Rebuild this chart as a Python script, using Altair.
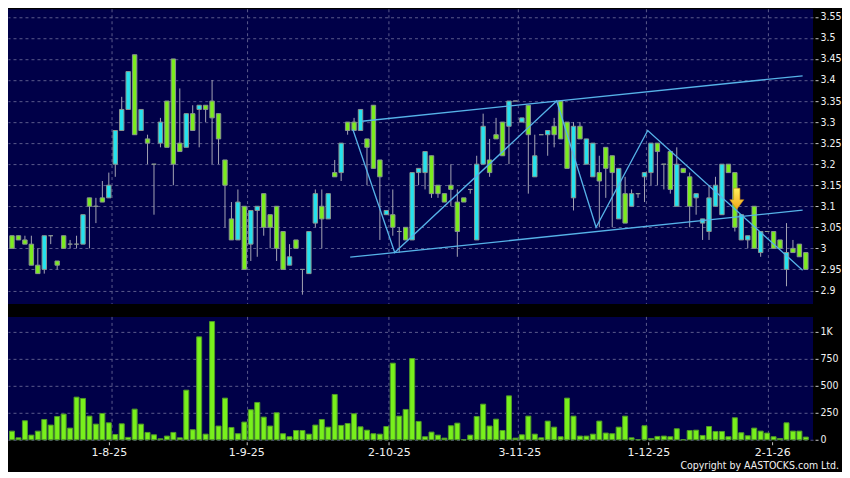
import altair as alt
import pandas as pd

# ---- daily candles (index 0..123) ----
opens = [3.03, 3.03, 3.02, 3.01, 2.96, 2.95, 3.03, 2.97, 3.03, 3.01,
         3.01, 3.01, 3.12, 3.10, 3.12, 3.12, 3.20, 3.28, 3.33, 3.46,
         3.28, 3.26, 3.20, 3.25, 3.35, 3.45, 3.25, 3.24, 3.32, 3.33,
         3.34, 3.35, 3.32, 3.21, 3.07, 3.02, 3.10, 3.01, 3.09, 3.13,
         3.08, 3.10, 3.04, 2.96, 3.02, 2.95, 2.94, 3.06, 3.10, 3.07,
         3.18, 3.18, 3.30, 3.30, 3.28, 3.26, 3.34, 3.21, 3.08, 3.08,
         3.04, 3.05, 3.02, 3.18, 3.18, 3.22, 3.15, 3.13, 3.15, 3.11,
         3.12, 3.14, 3.02, 3.20, 3.21, 3.27, 3.30, 3.29, 3.35, 3.30,
         3.34, 3.17, 3.27, 3.27, 3.29, 3.35, 3.30, 3.12, 3.29, 3.20,
         3.17, 3.18, 3.24, 3.22, 3.07, 3.13, 3.10, 3.13, 3.17, 3.18,
         3.25, 3.20, 3.23, 3.10, 3.19, 3.17, 3.12, 3.06, 3.04, 3.10,
         3.08, 3.20, 3.18, 3.02, 3.02, 3.10, 2.99, 3.04, 3.04, 3.02,
         2.95, 3.00, 3.01, 2.99]
closes = [3.00, 3.02, 3.01, 2.96, 2.94, 3.03, 3.03, 2.96, 3.00, 3.01,
          3.01, 3.08, 3.10, 3.10, 3.11, 3.15, 3.28, 3.33, 3.42, 3.27,
          3.33, 3.25, 3.20, 3.30, 3.24, 3.20, 3.23, 3.32, 3.28, 3.34,
          3.33, 3.31, 3.26, 3.15, 3.02, 3.11, 2.95, 3.09, 3.10, 3.05,
          3.05, 3.00, 2.95, 2.98, 3.00, 2.95, 3.04, 3.13, 3.07, 3.13,
          3.17, 3.25, 3.28, 3.28, 3.33, 3.24, 3.19, 3.17, 3.09, 3.05,
          3.04, 3.02, 3.18, 3.19, 3.23, 3.13, 3.13, 3.11, 3.14, 3.04,
          3.11, 3.14, 3.20, 3.29, 3.18, 3.26, 3.22, 3.35, 3.35, 3.31,
          3.27, 3.22, 3.27, 3.28, 3.27, 3.26, 3.19, 3.29, 3.26, 3.26,
          3.25, 3.16, 3.19, 3.18, 3.19, 3.06, 3.13, 3.13, 3.18, 3.25,
          3.23, 3.20, 3.14, 3.20, 3.18, 3.10, 3.13, 3.07, 3.12, 3.15,
          3.20, 3.18, 3.05, 3.08, 3.03, 3.00, 3.04, 3.04, 3.00, 3.00,
          2.99, 2.99, 2.98, 2.95]
highs = [3.03, 3.03, 3.03, 3.03, 3.00, 3.03, 3.03, 2.97, 3.03, 3.02,
         3.03, 3.08, 3.12, 3.12, 3.16, 3.18, 3.28, 3.36, 3.42, 3.46,
         3.33, 3.27, 3.20, 3.31, 3.35, 3.45, 3.38, 3.32, 3.34, 3.34,
         3.34, 3.40, 3.32, 3.21, 3.11, 3.14, 3.10, 3.09, 3.10, 3.13,
         3.08, 3.10, 3.04, 3.01, 3.02, 2.95, 3.04, 3.14, 3.14, 3.13,
         3.21, 3.25, 3.30, 3.31, 3.33, 3.26, 3.34, 3.21, 3.09, 3.14,
         3.05, 3.05, 3.18, 3.19, 3.23, 3.22, 3.15, 3.13, 3.20, 3.14,
         3.12, 3.14, 3.22, 3.32, 3.26, 3.31, 3.30, 3.35, 3.35, 3.31,
         3.34, 3.27, 3.27, 3.28, 3.31, 3.35, 3.30, 3.30, 3.30, 3.26,
         3.25, 3.22, 3.24, 3.22, 3.19, 3.17, 3.14, 3.13, 3.18, 3.25,
         3.25, 3.20, 3.23, 3.24, 3.19, 3.18, 3.13, 3.07, 3.15, 3.17,
         3.20, 3.20, 3.18, 3.08, 3.03, 3.10, 3.04, 3.04, 3.04, 3.02,
         3.06, 3.02, 3.01, 2.99]
lows = [3.00, 3.02, 3.01, 2.96, 2.94, 2.94, 3.01, 2.95, 3.00, 3.00,
        3.00, 3.01, 3.00, 3.06, 3.11, 3.12, 3.17, 3.28, 3.33, 3.27,
        3.28, 3.20, 3.08, 3.24, 3.24, 3.15, 3.23, 3.24, 3.28, 3.24,
        3.30, 3.20, 3.20, 3.05, 3.02, 3.02, 2.95, 2.97, 2.98, 3.03,
        3.00, 2.97, 2.95, 2.96, 3.00, 2.89, 2.94, 3.05, 3.00, 3.07,
        3.17, 3.16, 3.27, 3.28, 3.28, 3.15, 3.19, 3.02, 3.08, 3.03,
        2.99, 3.02, 3.02, 3.15, 3.14, 3.12, 3.12, 3.11, 3.10, 2.98,
        3.11, 3.13, 3.02, 3.20, 3.17, 3.26, 3.22, 3.20, 3.35, 3.30,
        3.13, 3.17, 3.27, 3.22, 3.24, 3.26, 3.19, 3.09, 3.26, 3.20,
        3.17, 3.05, 3.12, 3.05, 3.07, 3.06, 3.10, 3.12, 3.11, 3.15,
        3.15, 3.14, 3.13, 3.10, 3.18, 3.05, 3.08, 3.02, 3.02, 3.10,
        3.08, 3.18, 3.04, 3.02, 3.00, 3.00, 2.98, 3.04, 3.00, 3.00,
        2.91, 2.99, 2.98, 2.95]
volumes = [80, 18, 176, 43, 80, 188, 136, 216, 238, 108,
           395, 383, 219, 145, 244, 157, 49, 148, 22, 284,
           145, 68, 46, 9, 34, 68, 18, 460, 93, 954,
           52, 1096, 127, 386, 114, 56, 164, 278, 346, 210,
           127, 250, 56, 28, 86, 86, 52, 136, 188, 117,
           420, 133, 151, 241, 120, 89, 56, 52, 123, 710,
           219, 281, 753, 170, 28, 71, 43, 15, 130, 154,
           0, 43, 216, 330, 127, 191, 86, 407, 15, 46,
           219, 52, 18, 173, 117, 28, 386, 219, 34, 34,
           52, 173, 62, 56, 117, 219, 18, 0, 130, 12,
           31, 34, 28, 102, 0, 86, 89, 40, 123, 77,
           77, 28, 204, 65, 37, 108, 80, 62, 28, 12,
           157, 80, 80, 25]

# ---- date axis ----
tick_pos = [15.0, 36.3, 58.4, 78.6, 98.6, 117.8]
tick_labels = ["1-8-25", "1-9-25", "2-10-25", "3-11-25", "1-12-25", "2-1-26"]
grid_pos = [15.5, 36.5, 58.4, 78.45, 98.3, 117.2]

price_ticks = [2.9, 2.95, 3.0, 3.05, 3.1, 3.15, 3.2, 3.25, 3.3, 3.35, 3.4, 3.45, 3.5, 3.55]
volume_ticks = [0, 250, 500, 750, 1000]

# ---- drawn trend lines ----
upper_x = [54.2, 122.5]
upper_y = [3.302, 3.41]
lower_x = [52.4, 122.5]
lower_y = [2.979, 3.091]
zig_x = [52.8, 59.3, 84.4, 90.5, 98.5, 122.5]
zig_y = [3.283, 2.99, 3.35, 3.05, 3.28, 2.948]

arrow_x = [112.3]
arrow_y = [3.118]

# ---- tables ----
n = len(opens)
df = pd.DataFrame({
    "i": list(range(n)), "open": opens, "high": highs, "low": lows,
    "close": closes, "volume": volumes,
})
df["dir"] = ["up" if c > o else "down" for o, c in zip(opens, closes)]

grid_df = pd.DataFrame({"g": grid_pos})
lines_df = pd.DataFrame({
    "x": upper_x + lower_x + zig_x,
    "y": upper_y + lower_y + zig_y,
    "line": ["upper"] * len(upper_x) + ["lower"] * len(lower_x) + ["zig"] * len(zig_x),
    "order": list(range(len(upper_x))) + list(range(len(lower_x))) + list(range(len(zig_x))),
})
arrow_df = pd.DataFrame({"x": arrow_x, "y": arrow_y})

# ---- styling ----
GRID = "#5a5a8c"
LABEL = "#f2f2f2"
W = 806
x_scale = alt.Scale(domain=[0.153, 123.34], nice=False, zero=False)
p_scale = alt.Scale(domain=[2.868, 3.568], nice=False, zero=False)
v_scale = alt.Scale(domain=[0, 1139], nice=False, zero=False)

price_axis = alt.Axis(orient="right", values=price_ticks, format=".2~f", title=None,
                      grid=True, gridColor=GRID, gridDash=[3, 3], gridWidth=1,
                      domain=False, ticks=True, tickSize=3, tickColor="#c8c8c8",
                      offset=2, labelPadding=2, labelColor=LABEL,
                      labelFont="DejaVu Sans Condensed", labelFontSize=10.5)

base_p = alt.Chart(df)

vgrid_p = alt.Chart(grid_df).mark_rule(color=GRID, strokeDash=[3, 3], strokeWidth=1).encode(
    x=alt.X("g:Q", scale=x_scale, axis=None))

wicks = base_p.mark_rule(color="#a4a4b4", strokeWidth=1).encode(
    x=alt.X("i:Q", scale=x_scale, axis=None),
    y=alt.Y("low:Q", scale=p_scale, axis=price_axis),
    y2="high:Q",
)

bodies = base_p.mark_bar(size=4.4, stroke="#8a9690", strokeWidth=1).encode(
    x=alt.X("i:Q", scale=x_scale, axis=None),
    y=alt.Y("open:Q", scale=p_scale, axis=price_axis),
    y2="close:Q",
    color=alt.Color("dir:N", scale=alt.Scale(domain=["up", "down"], range=["#24e2ee", "#7bec1e"]),
                    legend=None),
)

trend = alt.Chart(lines_df).mark_line(color="#56b2e8", strokeWidth=1.3).encode(
    x=alt.X("x:Q", scale=x_scale, axis=None),
    y=alt.Y("y:Q", scale=p_scale, axis=price_axis),
    detail="line:N",
    order="order:Q",
)

arrow_shape = "M-0.3,-1 L0.3,-1 L0.3,0.1 L0.67,0.1 L0,1 L-0.67,0.1 L-0.3,0.1 Z"
arrow = alt.Chart(arrow_df).mark_point(
    shape=arrow_shape, size=441, filled=True, opacity=1,
    fill=alt.LinearGradient(gradient="linear",
                            stops=[alt.GradientStop(color="#fff15a", offset=0),
                                   alt.GradientStop(color="#f3a51c", offset=1)],
                            x1=0, x2=0, y1=0, y2=1),
    stroke="#c98a12", strokeWidth=0.6,
).encode(
    x=alt.X("x:Q", scale=x_scale, axis=None),
    y=alt.Y("y:Q", scale=p_scale, axis=price_axis),
)

price = alt.layer(vgrid_p, wicks, bodies, trend, arrow).properties(width=W, height=295)

# ---- volume panel ----
label_expr = " : ".join(
    f"datum.value == {p} ? '{t}'" for p, t in zip(tick_pos, tick_labels)) + " : ''"

x_axis = alt.Axis(values=tick_pos, labelExpr=label_expr, title=None, grid=False,
                  domain=False, ticks=True, tickSize=3, tickColor="#c8c8c8", offset=2,
                  labelPadding=2, labelColor=LABEL, labelFont="DejaVu Sans",
                  labelFontSize=11, labelFlush=False, labelOverlap=False)

vol_axis = alt.Axis(orient="right", values=volume_ticks, title=None,
                    labelExpr="datum.value >= 1000 ? '1K' : datum.label",
                    grid=True, gridColor=GRID, gridDash=[3, 3], gridWidth=1,
                    domain=False, ticks=True, tickSize=3, tickColor="#c8c8c8",
                    offset=2, labelPadding=2, labelColor=LABEL,
                    labelFont="DejaVu Sans Condensed", labelFontSize=10.5)

vgrid_v = alt.Chart(grid_df).mark_rule(color=GRID, strokeDash=[3, 3], strokeWidth=1).encode(
    x=alt.X("g:Q", scale=x_scale, axis=x_axis))

vol_bars = alt.Chart(df).mark_bar(size=5, color="#78f01c", stroke="#4f9a28", strokeWidth=1).encode(
    x=alt.X("i:Q", scale=x_scale, axis=x_axis),
    y=alt.Y("volume:Q", scale=v_scale, axis=vol_axis),
)

volume = alt.layer(vgrid_v, vol_bars).properties(width=W, height=123)

chart = alt.vconcat(price, volume, spacing=11).properties(
    title=alt.TitleParams(text="Copyright by AASTOCKS.com Ltd.", orient="bottom", anchor="end",
                          font="DejaVu Sans Condensed", fontSize=10.5, fontWeight="normal",
                          color=LABEL, offset=3, dx=-2),
    padding=0,
    background="#000000",
).configure_view(fill="#000048", strokeWidth=0)

chart.save("out.html", embed_options={"renderer": "svg", "actions": False})
